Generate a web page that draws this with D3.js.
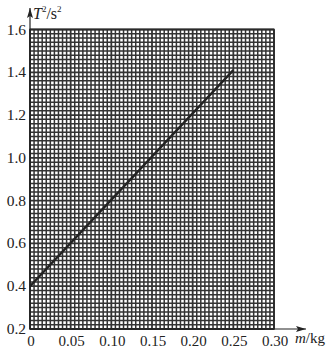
<!DOCTYPE html>
<html>
<head>
<meta charset="utf-8">
<script src="https://cdn.jsdelivr.net/npm/d3@7"></script>
<style>
  body { margin: 0; background: #fff; }
  text { font-family: "Liberation Serif", "DejaVu Serif", serif; fill: #222; }
</style>
</head>
<body>
<svg id="chart" width="329" height="350"></svg>
<script>
// fitted line
var massValues = [0, 0.25];
var periodSqValues = [0.40, 1.41];

var xTickValues = [0, 0.05, 0.10, 0.15, 0.20, 0.25, 0.30];
var xTickLabels = ["0", "0.05", "0.10", "0.15", "0.20", "0.25", "0.30"];
var yTickValues = [0.2, 0.4, 0.6, 0.8, 1.0, 1.2, 1.4, 1.6];
var yTickLabels = ["0.2", "0.4", "0.6", "0.8", "1.0", "1.2", "1.4", "1.6"];

// note: "top" is taken by window.top, so use plot* names
var plotLeft = 30, plotRight = 274, plotTop = 29.5, plotBottom = 329;

var svg = d3.select("#chart");

var x = d3.scaleLinear().domain([0, 0.30]).range([plotLeft, plotRight]);
var y = d3.scaleLinear().domain([0.2, 1.6]).range([plotBottom, plotTop]);

// graph paper
var grid = svg.append("g");
grid.append("rect")
    .attr("x", plotLeft).attr("y", plotTop)
    .attr("width", plotRight - plotLeft).attr("height", plotBottom - plotTop)
    .attr("fill", "#fff");

var xMinor = d3.range(0, 61).map(function(i) { return i * 0.005; });
var yMinor = d3.range(0, 71).map(function(i) { return 0.2 + i * 0.02; });

grid.selectAll(".vx").data(xMinor).enter().append("line")
    .attr("x1", function(d) { return x(d); })
    .attr("x2", function(d) { return x(d); })
    .attr("y1", plotTop).attr("y2", plotBottom)
    .attr("stroke", "#333")
    .attr("stroke-width", function(d, i) { return i % 10 == 0 ? 1.8 : 1.5; });

grid.selectAll(".hy").data(yMinor).enter().append("line")
    .attr("y1", function(d) { return y(d); })
    .attr("y2", function(d) { return y(d); })
    .attr("x1", plotLeft).attr("x2", plotRight)
    .attr("stroke", "#333")
    .attr("stroke-width", function(d, i) { return i % 10 == 0 ? 1.8 : 1.5; });

// border
grid.append("rect")
    .attr("x", plotLeft).attr("y", plotTop)
    .attr("width", plotRight - plotLeft).attr("height", plotBottom - plotTop)
    .attr("fill", "none").attr("stroke", "#2a2a2a").attr("stroke-width", 1.6);

// axes with arrows
svg.append("defs").append("marker")
    .attr("id", "arrow")
    .attr("viewBox", "0 0 10 6")
    .attr("refX", 10).attr("refY", 3)
    .attr("markerWidth", 10).attr("markerHeight", 6)
    .attr("markerUnits", "userSpaceOnUse")
    .attr("orient", "auto")
  .append("path")
    .attr("d", "M0,0L10,3L0,6L2,3Z")
    .attr("fill", "#222");

svg.append("line")
    .attr("x1", plotLeft).attr("y1", plotBottom)
    .attr("x2", 306).attr("y2", plotBottom)
    .attr("stroke", "#222").attr("stroke-width", 1.2)
    .attr("marker-end", "url(#arrow)");

svg.append("line")
    .attr("x1", plotLeft).attr("y1", plotBottom)
    .attr("x2", plotLeft).attr("y2", 8)
    .attr("stroke", "#222").attr("stroke-width", 1.2)
    .attr("marker-end", "url(#arrow)");

// tick labels
svg.selectAll(".xl").data(xTickValues).enter().append("text")
    .attr("x", function(d) { return x(d) + 1; })
    .attr("y", 346)
    .attr("text-anchor", "middle")
    .attr("font-size", 15)
    .text(function(d, i) { return xTickLabels[i]; });

svg.selectAll(".yl").data(yTickValues).enter().append("text")
    .attr("x", 26)
    .attr("y", function(d) { return y(d) + 5; })
    .attr("text-anchor", "end")
    .attr("font-size", 15.5)
    .text(function(d, i) { return yTickLabels[i]; });

// axis titles
var yt = svg.append("text").attr("x", 33).attr("y", 19).attr("font-size", 16);
yt.append("tspan").attr("font-style", "italic").text("T");
yt.append("tspan").attr("font-size", 9).attr("dy", -7).text("2");
yt.append("tspan").attr("dy", 7).text("/s");
yt.append("tspan").attr("font-size", 9).attr("dy", -7).text("2");

var xt = svg.append("text").attr("x", 295).attr("y", 343).attr("font-size", 15);
xt.append("tspan").attr("font-style", "italic").text("m");
xt.append("tspan").text("/kg");

// fitted line
var pts = massValues.map(function(m, i) { return [m, periodSqValues[i]]; });
svg.append("path")
    .datum(pts)
    .attr("d", d3.line().x(function(d) { return x(d[0]); }).y(function(d) { return y(d[1]); }))
    .attr("fill", "none")
    .attr("stroke", "#222")
    .attr("stroke-width", 2.4);
</script>
</body>
</html>
